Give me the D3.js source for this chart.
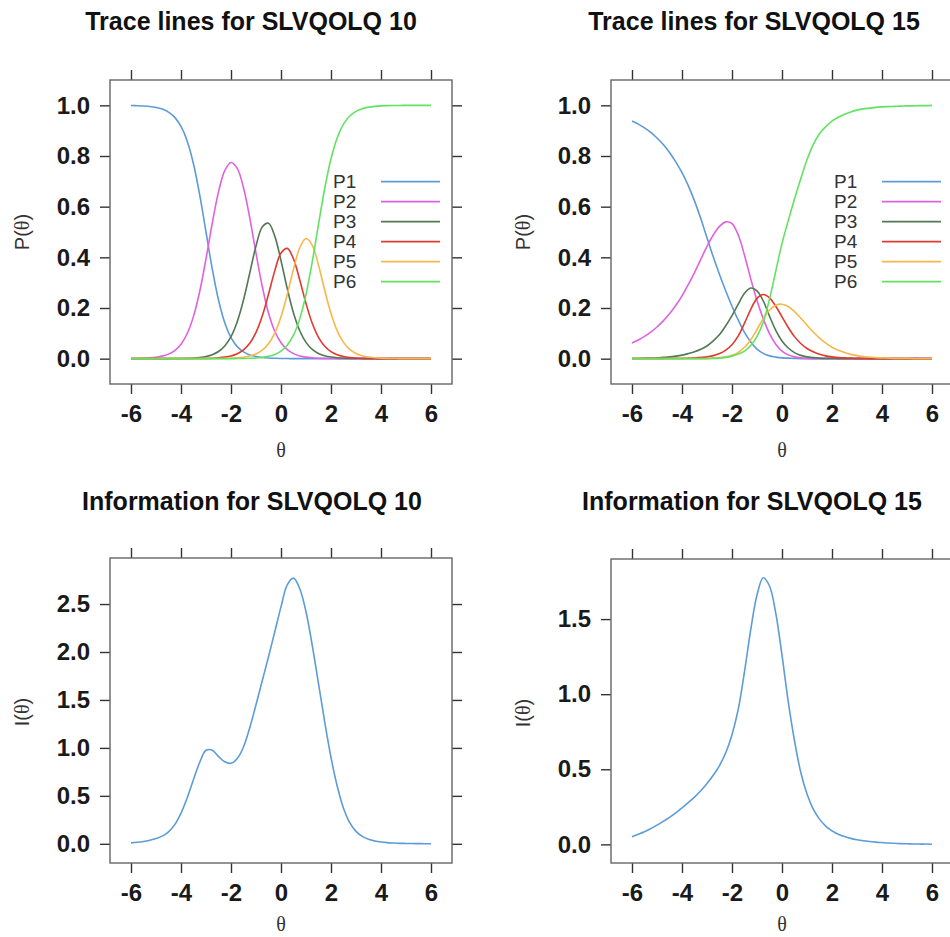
<!DOCTYPE html>
<html><head><meta charset="utf-8">
<script src="https://cdn.jsdelivr.net/npm/d3@7"></script>
<style>body{margin:0;background:#fff}svg{display:block}</style>
</head><body>
<svg id="chart" width="950" height="937"></svg>
<script>
// ---------- data ----------
const theta = [-6,-5.75,-5.5,-5.25,-5,-4.75,-4.5,-4.25,-4,-3.75,-3.5,-3.25,-3,-2.75,-2.5,-2.25,-2,-1.75,-1.5,-1.25,-1,-0.75,-0.5,-0.25,0,0.25,0.5,0.75,1,1.25,1.5,1.75,2,2.25,2.5,2.75,3,3.25,3.5,3.75,4,4.25,4.5,4.75,5,5.25,5.5,5.75,6];
const categories = ["P1","P2","P3","P4","P5","P6"];
const xTicks = [-6,-4,-2,0,2,4,6];
const traceTicks = [0,0.2,0.4,0.6,0.8,1.0];
const info10Ticks = [0,0.5,1.0,1.5,2.0,2.5];
const info15Ticks = [0,0.5,1.0,1.5];

// Item SLVQOLQ 10 trace lines
const p1_item10 = [0.9993,0.9986,0.9975,0.9955,0.9918,0.9852,0.9734,0.9526,0.9168,0.8581,0.7685,0.6457,0.5,0.3543,0.2315,0.1419,0.0832,0.0474,0.0266,0.0148,0.0082,0.0045,0.0025,0.0014,0.0008,0.0004,0.0002,0.0001,0,0,0,0,0,0,0,0,0,0,0,0,0,0,0,0,0,0,0,0,0];
const p2_item10 = [0.0005,0.0009,0.0017,0.0030,0.0055,0.0100,0.0180,0.0322,0.0572,0.0994,0.1669,0.2661,0.3943,0.5342,0.6582,0.7425,0.7745,0.7513,0.6749,0.5559,0.4166,0.2849,0.1806,0.1083,0.0626,0.0354,0.0198,0.0109,0.0060,0.0034,0.0019,0.0010,0.0006,0.0003,0.0002,0.0001,0,0,0,0,0,0,0,0,0,0,0,0,0];
const p3_item10 = [0,0,0,0,0.0001,0.0001,0.0003,0.0005,0.0008,0.0015,0.0027,0.0048,0.0088,0.0158,0.0284,0.0503,0.0873,0.1461,0.2314,0.3380,0.4450,0.5196,0.5344,0.4838,0.3869,0.2765,0.1803,0.1101,0.0643,0.0366,0.0205,0.0114,0.0063,0.0035,0.0019,0.0010,0.0006,0.0003,0.0002,0.0001,0,0,0,0,0,0,0,0,0];
const p4_item10 = [0,0,0,0,0,0,0,0.0001,0.0001,0.0002,0.0003,0.0005,0.0010,0.0018,0.0033,0.0060,0.0108,0.0195,0.0347,0.0609,0.1037,0.1683,0.2540,0.3466,0.4168,0.4353,0.3935,0.3103,0.2178,0.1396,0.0842,0.0488,0.0276,0.0154,0.0085,0.0047,0.0026,0.0014,0.0008,0.0004,0.0002,0.0001,0,0,0,0,0,0,0];
const p5_item10 = [0,0,0,0,0,0,0,0,0,0,0,0,0.0002,0.0003,0.0005,0.0010,0.0018,0.0031,0.0058,0.0104,0.0187,0.0335,0.0589,0.1009,0.1654,0.2534,0.3534,0.4377,0.4744,0.4475,0.3688,0.2692,0.1780,0.1096,0.0643,0.0367,0.0206,0.0114,0.0063,0.0035,0.0019,0.0011,0.0006,0.0003,0.0002,0.0001,0,0,0];
const p6_item10 = [0,0,0,0,0,0,0,0,0,0,0,0,0,0,0,0.0001,0.0002,0.0005,0.0008,0.0015,0.0028,0.0051,0.0092,0.0166,0.0299,0.0532,0.0928,0.1571,0.2535,0.3823,0.5300,0.6726,0.7892,0.8721,0.9256,0.9577,0.9763,0.9869,0.9928,0.9960,0.9978,0.9988,0.9993,0.9996,0.9998,0.9999,0.9999,1,1];

// Item SLVQOLQ 15 trace lines
const p1_item15 = [0.938,0.926,0.911,0.893,0.871,0.845,0.814,0.777,0.734,0.683,0.623,0.553,0.477,0.402,0.332,0.267,0.207,0.152,0.104,0.066,0.038,0.021,0.011,0.006,0.003,0.002,0.001,0,0,0,0,0,0,0,0,0,0,0,0,0,0,0,0,0,0,0,0,0,0];
const p2_item15 = [0.062,0.074,0.088,0.105,0.125,0.149,0.177,0.21,0.248,0.292,0.34,0.392,0.443,0.488,0.522,0.54,0.533,0.488,0.408,0.315,0.23,0.158,0.099,0.057,0.03,0.015,0.007,0.003,0.001,0,0,0,0,0,0,0,0,0,0,0,0,0,0,0,0,0,0,0,0];
const p3_item15 = [0.001,0.001,0.002,0.002,0.003,0.005,0.007,0.01,0.014,0.02,0.027,0.037,0.05,0.07,0.095,0.13,0.17,0.215,0.258,0.279,0.268,0.228,0.168,0.112,0.07,0.042,0.024,0.013,0.007,0.004,0.002,0.001,0.001,0,0,0,0,0,0,0,0,0,0,0,0,0,0,0,0];
const p4_item15 = [0,0,0,0,0,0,0.001,0.001,0.001,0.002,0.003,0.005,0.007,0.012,0.02,0.034,0.055,0.09,0.14,0.195,0.238,0.253,0.24,0.207,0.165,0.123,0.087,0.06,0.04,0.027,0.017,0.011,0.007,0.004,0.003,0.002,0.001,0.001,0,0,0,0,0,0,0,0,0,0,0];
const p5_item15 = [0,0,0,0,0,0,0,0,0,0,0,0,0.001,0.002,0.004,0.007,0.013,0.025,0.045,0.075,0.115,0.158,0.192,0.211,0.215,0.206,0.186,0.16,0.132,0.105,0.081,0.061,0.045,0.033,0.024,0.017,0.012,0.008,0.006,0.004,0.003,0.002,0.001,0.001,0.001,0,0,0,0];
const p6_item15 = [0,0,0,0,0,0,0,0,0,0,0,0,0,0.001,0.002,0.005,0.01,0.018,0.03,0.052,0.088,0.145,0.235,0.345,0.455,0.545,0.63,0.71,0.785,0.845,0.888,0.916,0.938,0.953,0.965,0.974,0.981,0.986,0.989,0.992,0.994,0.995,0.996,0.997,0.998,0.998,0.999,0.999,1.0];

// Item information
const info_item10 = [0.01,0.016,0.025,0.038,0.055,0.08,0.125,0.2,0.32,0.48,0.67,0.85,0.975,0.975,0.91,0.855,0.84,0.89,1.01,1.21,1.45,1.7,1.95,2.21,2.47,2.7,2.77,2.66,2.42,2.07,1.67,1.27,0.9,0.6,0.37,0.22,0.13,0.078,0.047,0.03,0.019,0.012,0.008,0.005,0.004,0.003,0.002,0.001,0.001];
const info_item15 = [0.051,0.067,0.084,0.105,0.128,0.153,0.18,0.21,0.243,0.278,0.315,0.357,0.405,0.46,0.525,0.61,0.73,0.9,1.15,1.43,1.66,1.775,1.72,1.54,1.26,0.95,0.69,0.48,0.335,0.235,0.168,0.122,0.09,0.068,0.052,0.04,0.031,0.024,0.019,0.015,0.012,0.009,0.007,0.005,0.004,0.003,0.002,0.002,0.001];

// ---------- styles ----------
const catColors = ["#5d9bd6","#e062e0","#4f7a52","#e03a30","#f6b84c","#62e262"];
const infoColor = "#5c9cd8";
const sans = "'Liberation Sans', Arial, Helvetica, sans-serif";
const serif = "'Liberation Serif', 'Times New Roman', serif";

const panels = [
  {title:"Trace lines for SLVQOLQ 10", tx:251, ty:30, left:110, top:80, w:342, h:304, yDom:[-0.1,1.1], yTicks:traceTicks, ylab:"P",
   series:[p1_item10,p2_item10,p3_item10,p4_item10,p5_item10,p6_item10], legend:true, xlabY:457, ylabY:232},
  {title:"Trace lines for SLVQOLQ 15", tx:754, ty:30, left:611, top:80, w:342, h:304, yDom:[-0.1,1.1], yTicks:traceTicks, ylab:"P",
   series:[p1_item15,p2_item15,p3_item15,p4_item15,p5_item15,p6_item15], legend:true, xlabY:457, ylabY:232},
  {title:"Information for SLVQOLQ 10", tx:252, ty:510, left:110, top:558, w:342, h:305, yDom:[-0.2,2.98], yTicks:info10Ticks, ylab:"I",
   series:[info_item10], legend:false, xlabY:931, ylabY:712},
  {title:"Information for SLVQOLQ 15", tx:752, ty:510, left:611, top:559, w:342, h:304, yDom:[-0.124,1.9], yTicks:info15Ticks, ylab:"I",
   series:[info_item15], legend:false, xlabY:931, ylabY:713}
];

const svg = d3.select("#chart");
svg.append("rect").attr("width",950).attr("height",937).attr("fill","#fff");

panels.forEach(p => {
  const g = svg.append("g").attr("transform",`translate(${p.left},${p.top})`);
  const x = d3.scaleLinear().domain([-6.84,6.84]).range([0,p.w]);
  const y = d3.scaleLinear().domain(p.yDom).range([p.h,0]);

  // title
  svg.append("text").attr("x",p.tx).attr("y",p.ty).attr("text-anchor","middle")
    .attr("font-family",sans).attr("font-weight","bold").attr("font-size",25).attr("fill","#111").text(p.title);

  // axes
  const styleAxis = sel => {
    sel.select(".domain").remove();
    sel.selectAll(".tick line").attr("stroke","#333").attr("stroke-width",1.4);
    sel.selectAll(".tick text").attr("font-family",sans).attr("font-weight","bold").attr("font-size",24).attr("fill","#1a1a1a");
  };
  g.append("g").attr("transform",`translate(0,${p.h})`)
    .call(d3.axisBottom(x).tickValues(xTicks).tickSize(10).tickPadding(11).tickFormat(d => String(d))).call(styleAxis);
  g.append("g").call(d3.axisTop(x).tickValues(xTicks).tickSize(10).tickFormat("")).call(styleAxis);
  g.append("g")
    .call(d3.axisLeft(y).tickValues(p.yTicks).tickSize(10).tickPadding(10).tickFormat(d3.format(".1f"))).call(styleAxis);
  g.append("g").attr("transform",`translate(${p.w},0)`)
    .call(d3.axisRight(y).tickValues(p.yTicks).tickSize(10).tickFormat("")).call(styleAxis);

  // frame
  g.append("rect").attr("width",p.w).attr("height",p.h).attr("fill","none").attr("stroke","#666").attr("stroke-width",1.4);

  // lines
  const line = d3.line().x((d,i)=>x(theta[i])).y(d=>y(d)).curve(d3.curveCatmullRom.alpha(0.5));
  p.series.forEach((s,k) => {
    g.append("path").datum(s).attr("d",line).attr("fill","none")
      .attr("stroke", p.legend ? catColors[k] : infoColor).attr("stroke-width",1.6);
  });

  // legend
  if (p.legend) {
    categories.forEach((c,k) => {
      const ly = 101.7 + 20*k;
      g.append("text").attr("x",223).attr("y",ly).attr("dy","0.35em")
        .attr("font-family",sans).attr("font-size",19).attr("fill","#333").text(c);
      g.append("line").attr("x1",271).attr("x2",330).attr("y1",ly).attr("y2",ly)
        .attr("stroke",catColors[k]).attr("stroke-width",1.8);
    });
  }

  // x label
  svg.append("text").attr("x",p.left + x(0)).attr("y",p.xlabY).attr("text-anchor","middle")
    .attr("font-family",serif).attr("font-size",20).attr("fill","#333").text("θ");
  // y label
  const yl = svg.append("text").attr("transform",`translate(${p.left-88},${p.ylabY}) rotate(-90)`)
    .attr("text-anchor","middle").attr("dy","0.35em").attr("font-family",sans).attr("font-size",20).attr("fill","#333");
  yl.append("tspan").text(p.ylab + "(");
  yl.append("tspan").attr("font-family",serif).text("θ");
  yl.append("tspan").text(")");
});
</script>
</body></html>
